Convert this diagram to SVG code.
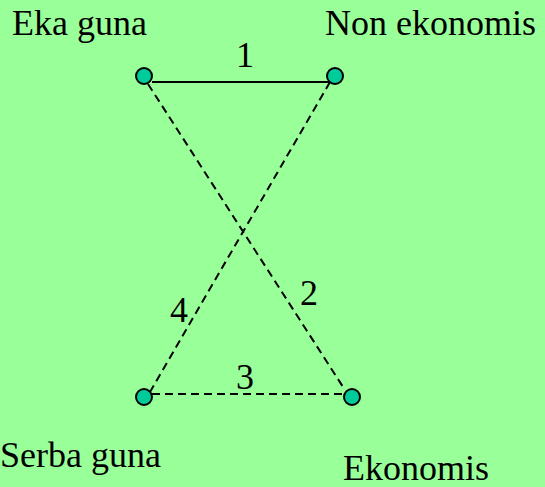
<svg xmlns="http://www.w3.org/2000/svg" width="545" height="487" viewBox="0 0 545 487">
<style>
text{font-family:"Liberation Serif","Times New Roman",serif;font-size:36px;fill:#000}
.n{fill:#00CC99;stroke:#000;stroke-width:2}
.c{stroke:#000;stroke-width:2;fill:none}
.d{stroke-dasharray:8 5}
</style>
<rect width="545" height="487" fill="#99FF99"/>
<g id="connectors">
<line class="c" x1="152" y1="82" x2="330" y2="82"/>
<line class="c d" x1="148" y1="84" x2="345" y2="390"/>
<line class="c d" x1="152" y1="394" x2="345" y2="394"/>
<line class="c d" x1="330" y1="82" x2="150" y2="392"/>
<text x="245" y="67" text-anchor="middle">1</text>
<text x="309" y="305" text-anchor="middle">2</text>
<text x="245" y="389" text-anchor="middle">3</text>
<text x="179" y="322" text-anchor="middle">4</text>
</g>
<g id="eka-guna"><circle class="n" cx="144" cy="76" r="8"/><text x="12" y="35">Eka guna</text></g>
<g id="non-ekonomis"><circle class="n" cx="335" cy="76" r="8"/><text x="325" y="35">Non ekonomis</text></g>
<g id="serba-guna"><circle class="n" cx="144" cy="397" r="8"/><text x="0" y="467">Serba guna</text></g>
<g id="ekonomis"><circle class="n" cx="352" cy="397" r="8"/><text x="343" y="480">Ekonomis</text></g>
</svg>
